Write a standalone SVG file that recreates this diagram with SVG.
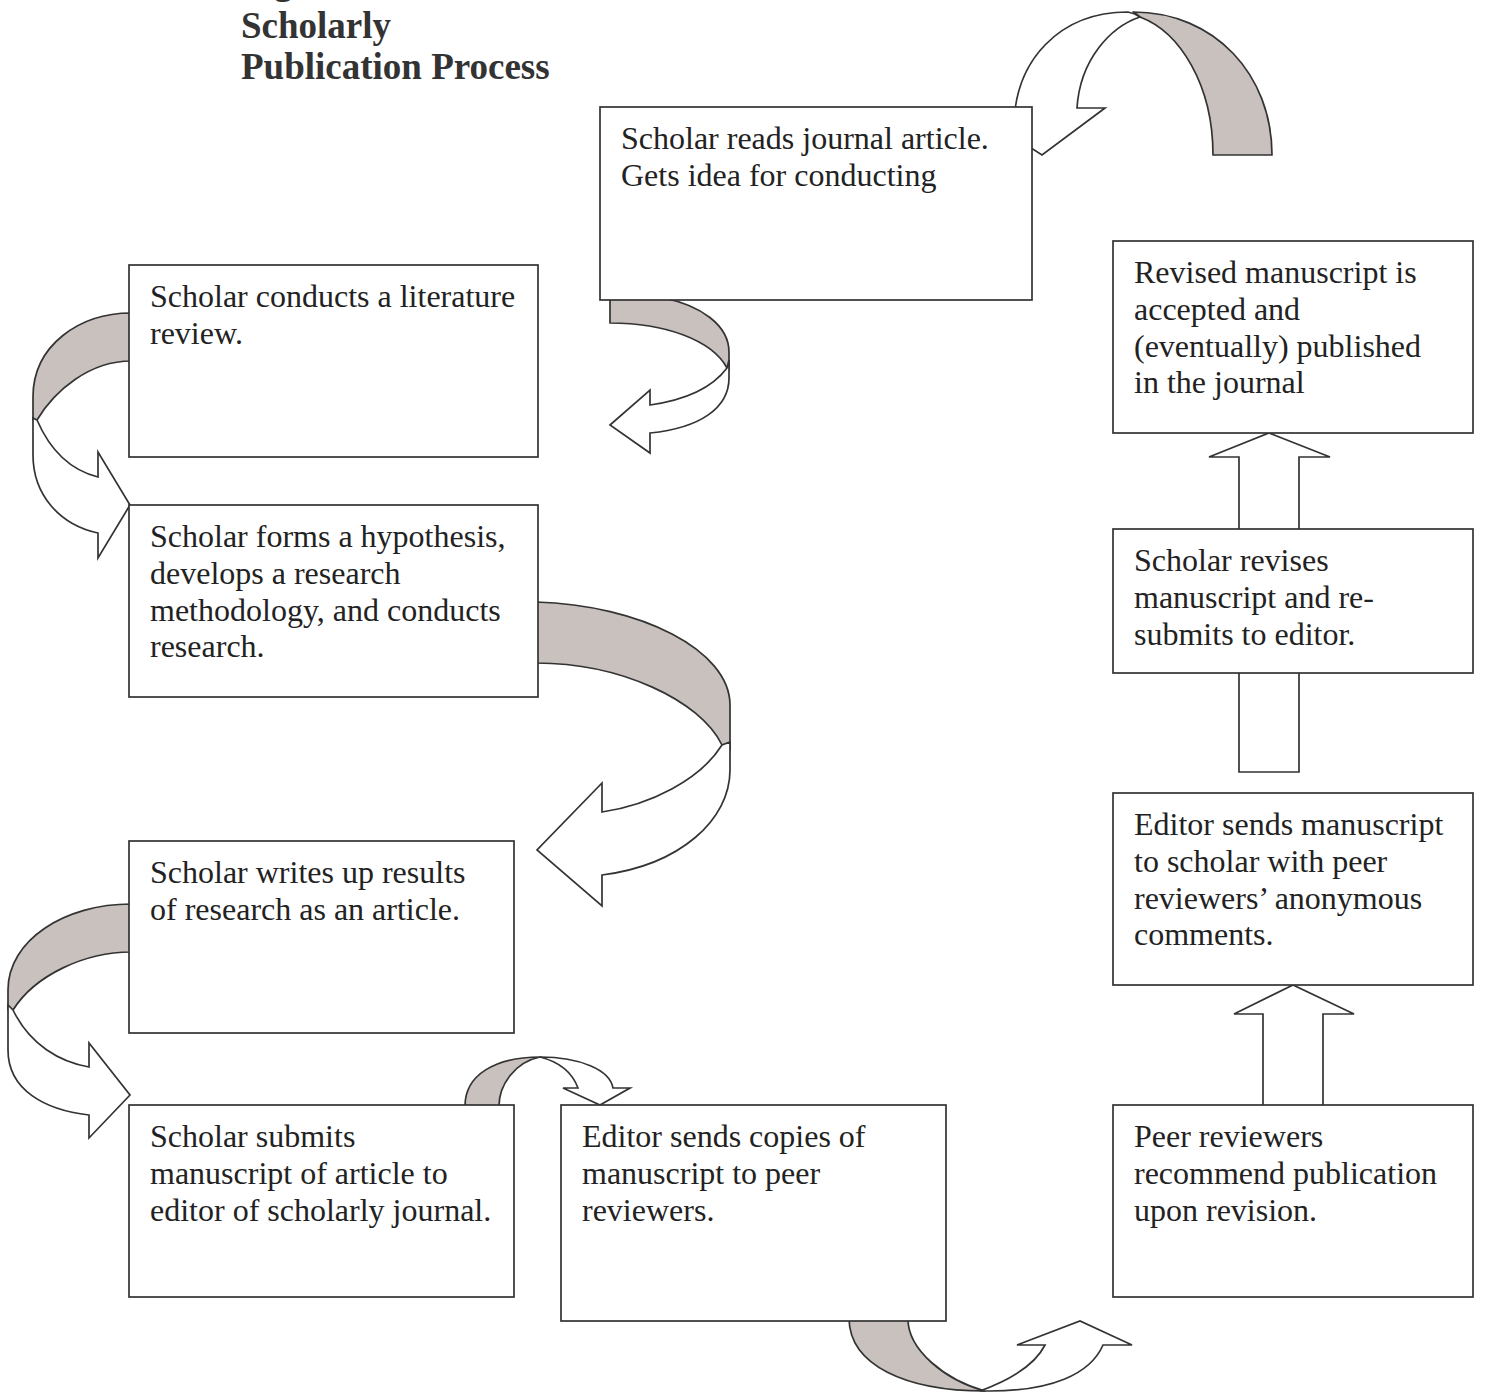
<svg xmlns="http://www.w3.org/2000/svg" width="1505" height="1393" viewBox="0 0 1505 1393">
<style>
.box{fill:#fff;stroke:#333;stroke-width:1.7}
.t{font-family:"Liberation Serif","Times New Roman",serif;font-size:32px;fill:#222}
.title{font-family:"Liberation Serif","Times New Roman",serif;font-size:37px;font-weight:bold;fill:#333}
.sh{fill:#c9c1be;stroke:#333;stroke-width:1.7;stroke-linejoin:round}
.wh{fill:#fff;stroke:#333;stroke-width:1.7;stroke-linejoin:miter}
</style>
<rect width="1505" height="1393" fill="#fff"/>
<g id="title">
<text class="title" x="241" y="-6">Figure</text>
<text class="title" x="241" y="38">Scholarly</text>
<text class="title" x="241" y="79">Publication Process</text>
</g>
<g id="connectors">
<path class="sh" d="M1213,155 L1272,155 C1272,75 1215,12 1133,12 C1135,13 1138,15 1140,17 C1180,32 1213,85 1213,155 Z"/>
<path class="wh" d="M1140,17 C1110,27 1080,60 1077,108 L1105,108 L1042,155 L1000,128 L1014,128 C1014,60 1060,12 1128,12 C1133,13 1137,15 1140,17 Z"/>
<path class="sh" d="M610,298 L610,323 C665,323 712,340 727,368 L729,370 L729,352 C729,325 700,305 663,298 Z"/>
<path class="wh" d="M727,368 L729,360 L729,378 C729,408 700,428 650,433 L650,453 L610,425 L650,390 L650,405 C685,400 712,388 727,368 Z"/>
<path class="sh" d="M131,313 C80,313 33,345 33,397 L33,420 L37,420 C55,390 90,361 131,361 Z"/>
<path class="wh" d="M37,420 C50,450 70,470 98,477 L98,452 L130,505 L98,558 L98,533 C60,525 33,495 33,455 L33,418 Z"/>
<path class="sh" d="M536,602 C640,605 730,650 730,705 L730,750 L722,745 C700,700 620,663 536,663 Z"/>
<path class="wh" d="M722,745 C700,780 650,805 602,812 L602,783 L537,850 L602,906 L602,875 C680,865 730,820 730,770 L730,742 Z"/>
<path class="sh" d="M131,904 C65,904 8,940 8,990 L8,1010 L13,1010 C35,975 85,952 131,952 Z"/>
<path class="wh" d="M13,1010 C30,1045 60,1062 89,1067 L89,1043 L130,1095 L89,1138 L89,1115 C45,1110 8,1090 8,1050 L8,1005 Z"/>
<path class="sh" d="M465,1106 C465,1075 495,1057 540,1057 C515,1062 499,1085 499,1106 Z"/>
<path class="wh" d="M540,1057 C580,1057 610,1070 613,1088 L630,1088 L600,1105 L563,1088 L578,1088 C572,1072 560,1062 540,1057 Z"/>
<path class="sh" d="M849,1319 C850,1365 905,1391 985,1391 C945,1380 908,1350 908,1319 Z"/>
<path class="wh" d="M980,1391 C1010,1380 1035,1365 1045,1345 L1017,1345 L1080,1321 L1132,1345 L1103,1345 C1090,1375 1050,1391 990,1391 Z"/>
<path class="wh" d="M1263,1120 L1263,1014 L1234,1014 L1293,985 L1354,1014 L1323,1014 L1323,1120 Z"/>
<path class="wh" d="M1239,772 L1239,640 L1299,640 L1299,772 Z"/>
<path class="wh" d="M1239,560 L1239,457 L1209,457 L1269,433 L1330,457 L1299,457 L1299,560 Z"/>
</g>
<g id="n1"><rect class="box" x="600" y="107" width="432" height="193"/>
<text class="t" x="621" y="149">Scholar reads journal article.</text>
<text class="t" x="621" y="186">Gets idea for conducting</text></g>
<g id="n2"><rect class="box" x="129" y="265" width="409" height="192"/>
<text class="t" x="150" y="307">Scholar conducts a literature</text>
<text class="t" x="150" y="344">review.</text></g>
<g id="n3"><rect class="box" x="129" y="505" width="409" height="192"/>
<text class="t" x="150" y="547">Scholar forms a hypothesis,</text>
<text class="t" x="150" y="584">develops a research</text>
<text class="t" x="150" y="621">methodology, and conducts</text>
<text class="t" x="150" y="657">research.</text></g>
<g id="n4"><rect class="box" x="129" y="841" width="385" height="192"/>
<text class="t" x="150" y="883">Scholar writes up results</text>
<text class="t" x="150" y="920">of research as an article.</text></g>
<g id="n5"><rect class="box" x="129" y="1105" width="385" height="192"/>
<text class="t" x="150" y="1147">Scholar submits</text>
<text class="t" x="150" y="1184">manuscript of article to</text>
<text class="t" x="150" y="1221">editor of scholarly journal.</text></g>
<g id="n6"><rect class="box" x="561" y="1105" width="385" height="216"/>
<text class="t" x="582" y="1147">Editor sends copies of</text>
<text class="t" x="582" y="1184">manuscript to peer</text>
<text class="t" x="582" y="1221">reviewers.</text></g>
<g id="n7"><rect class="box" x="1113" y="1105" width="360" height="192"/>
<text class="t" x="1134" y="1147">Peer reviewers</text>
<text class="t" x="1134" y="1184">recommend publication</text>
<text class="t" x="1134" y="1221">upon revision.</text></g>
<g id="n8"><rect class="box" x="1113" y="793" width="360" height="192"/>
<text class="t" x="1134" y="835">Editor sends manuscript</text>
<text class="t" x="1134" y="872">to scholar with peer</text>
<text class="t" x="1134" y="909">reviewers’ anonymous</text>
<text class="t" x="1134" y="945">comments.</text></g>
<g id="n9"><rect class="box" x="1113" y="529" width="360" height="144"/>
<text class="t" x="1134" y="571">Scholar revises</text>
<text class="t" x="1134" y="608">manuscript and re-</text>
<text class="t" x="1134" y="645">submits to editor.</text></g>
<g id="n10"><rect class="box" x="1113" y="241" width="360" height="192"/>
<text class="t" x="1134" y="283">Revised manuscript is</text>
<text class="t" x="1134" y="320">accepted and</text>
<text class="t" x="1134" y="357">(eventually) published</text>
<text class="t" x="1134" y="393">in the journal</text></g>
</svg>
